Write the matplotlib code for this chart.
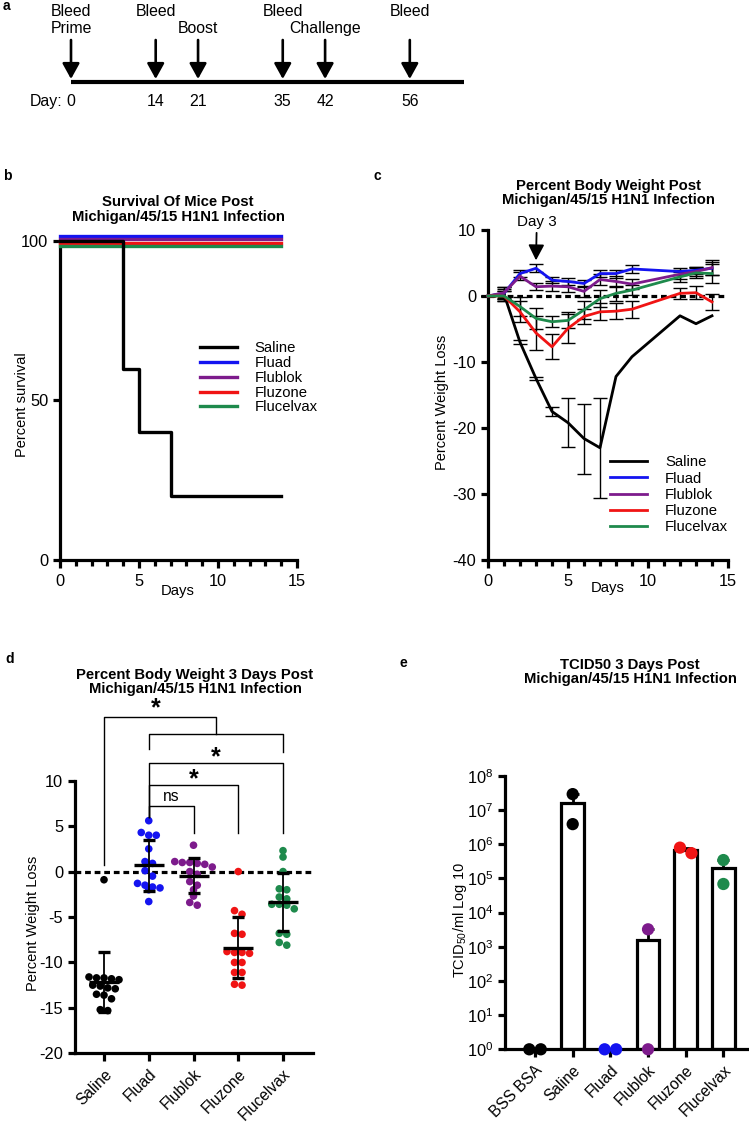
#!/usr/bin/env python3
"""Vaccine challenge figure: schedule (a), survival (b), weight curves (c),
day-3 weight loss scatter (d) and day-3 lung titres (e)."""
import numpy as np
import matplotlib
matplotlib.use("Agg")
import matplotlib.pyplot as plt
from matplotlib.ticker import MultipleLocator, FixedLocator, NullLocator
from matplotlib.transforms import ScaledTranslation

plt.rcParams["font.family"] = ["Liberation Sans", "DejaVu Sans"]
plt.rcParams["mathtext.fontset"] = "custom"
plt.rcParams["mathtext.rm"] = "Liberation Sans"
plt.rcParams["mathtext.it"] = "Liberation Sans:italic"
plt.rcParams["mathtext.bf"] = "Liberation Sans:bold"
plt.rcParams["mathtext.default"] = "regular"
plt.rcParams["axes.unicode_minus"] = False

W, H, DPI = 749, 1122, 100

GROUPS = ["Saline", "Fluad", "Flublok", "Fluzone", "Flucelvax"]
COLORS = ["#000000", "#1414f0", "#7d1b8c", "#f01414", "#1e8a4c"]

# --- a: schedule
EVENT_DAYS = [0, 14, 21, 35, 42, 56]
EVENT_TOP = ["Bleed", "Bleed", "", "Bleed", "", "Bleed"]
EVENT_BOTTOM = ["Prime", "", "Boost", "", "Challenge", ""]
TIMELINE_END = 65

# --- b: survival (Saline steps, vaccine groups stay at 100)
SURV_DAYS = [0, 4, 5, 7, 14]
SURV_SALINE = [100, 60, 40, 20, 20]
SURV_VACC_DAYS = [0, 14]
SURV_VACC = [100, 100]

# --- c: percent body weight, mean and SD per day
WT_DAYS = [0, 1, 2, 3, 4, 5, 6, 7, 8, 9, 12, 13, 14]
WT_MEAN = {
    "Saline":    [0, 0.3, -7.0, -12.5, -17.5, -19.2, -21.6, -23.0, -12.2, -9.2, -3.0, -4.2, -3.0],
    "Fluad":     [0, 0.4, 3.4, 4.2, 2.4, 2.2, 1.9, 3.4, 3.4, 4.1, 3.7, 3.9, 4.2],
    "Flublok":   [0, 0.5, 3.0, 1.4, 1.5, 1.4, 0.7, 2.5, 2.2, 1.8, 3.3, 3.7, 4.3],
    "Fluzone":   [0, 0.0, -2.4, -5.6, -7.7, -4.9, -3.1, -2.4, -2.3, -2.0, 0.4, 0.5, -0.9],
    "Flucelvax": [0, 0.0, -1.6, -3.4, -3.9, -3.7, -2.1, -0.4, 0.4, 0.9, 2.9, 3.5, 3.4],
}
WT_SD = {
    "Saline":    [0, 0.8, 0.3, 0.2, 0.7, 3.7, 5.3, 7.6, np.nan, np.nan, np.nan, np.nan, np.nan],
    "Fluad":     [0, 0.9, 0.5, 0.6, 0.5, 0.6, 0.5, 0.5, 0.6, 0.6, 0.5, 0.5, 1.0],
    "Flublok":   [0, 0.8, 0.6, 0.5, 0.7, 0.8, 0.8, 0.8, 0.9, 0.7, 0.7, 0.7, 1.1],
    "Fluzone":   [0, 0.7, 1.6, 2.6, 1.9, 2.2, 1.2, 1.3, 1.2, 1.3, 0.8, 1.0, 1.2],
    "Flucelvax": [0, 0.8, 1.5, 1.6, 0.8, 1.2, 1.4, 1.3, 1.1, 0.8, 0.8, 0.7, 1.4],
}

# --- d: individual mice, percent weight at day 3
D3_WEIGHT = {
    "Saline":    [-0.9, -11.6, -11.7, -11.7, -11.8, -11.9, -12.5, -12.6, -12.8, -12.9,
                  -13.5, -13.6, -14.0, -15.2, -15.3],
    "Fluad":     [5.6, 4.3, 4.0, 4.0, 2.5, 1.1, 0.9, 0.1, -0.5, -1.3, -1.5, -1.7, -1.8, -2.0, -3.3],
    "Flublok":   [2.9, 1.1, 1.0, 1.0, 0.9, 0.8, 0.5, 0.0, -0.3, -1.1, -1.5, -2.0, -2.7, -3.4, -3.7],
    "Fluzone":   [0.0, -4.3, -4.7, -6.8, -6.9, -8.8, -8.9, -8.9, -9.0, -10.0, -10.0,
                  -11.1, -11.1, -12.4, -12.5],
    "Flucelvax": [2.3, 1.6, 0.0, -1.9, -2.0, -2.8, -3.0, -3.6, -3.6, -3.7, -4.1, -6.8, -6.9, -7.8, -8.1],
}
# (left group, right group, label, height in % weight)
D3_BRACKETS = [
    ("Fluad", "Flublok", "ns", 7.2),
    ("Fluad", "Fluzone", "*", 9.5),
    ("Fluad", "Flucelvax", "*", 12.0),
]
D3_TOP_SPAN = ("Fluad", "Flucelvax", 15.15)
D3_TOP_BRACKET = ("Saline", "*", 17.0)

# --- e: TCID50 per mouse at day 3
TC_GROUPS = ["BSS BSA", "Saline", "Fluad", "Flublok", "Fluzone", "Flucelvax"]
TC_COLORS = ["#000000", "#000000", "#1414f0", "#7d1b8c", "#f01414", "#1e8a4c"]
TC_VALUES = [[1, 1], [2.95e7, 3.9e6], [1, 1], [3.25e3, 1], [5.5e5, 8.0e5], [3.46e5, 6.9e4]]

TICK_FS = 11.8


def px_axes(fig, left, top, right, bottom):
    return fig.add_axes([left / W, 1 - bottom / H, (right - left) / W, (bottom - top) / H])


def ftext(fig, x, y, s, **kw):
    return fig.text(x / W, 1 - y / H, s, **kw)


def prism_axes(ax, tick_len=5.4, minor_len=4.0):
    for s in ("top", "right"):
        ax.spines[s].set_visible(False)
    for s in ("left", "bottom"):
        ax.spines[s].set_linewidth(2.3)
    ax.tick_params(which="major", length=tick_len, width=2.3, labelsize=TICK_FS, pad=3)
    ax.tick_params(which="minor", length=minor_len, width=2.3)


def swarm_x(ax, center, values, diam_px):
    # spread points sharing a row sideways, like a scatter dot plot
    tr = ax.transData
    ys = np.array([tr.transform((center, v))[1] for v in values])
    unit = tr.transform((1, 0))[0] - tr.transform((0, 0))[0]
    order = np.argsort(-ys)
    xs = np.full(len(values), float(center))
    rows, cur, start = [], [], None
    for i in order:
        if start is None or start - ys[i] < 0.8 * diam_px:
            if start is None:
                start = ys[i]
            cur.append(i)
        else:
            rows.append(cur)
            cur, start = [i], ys[i]
    rows.append(cur)
    for row in rows:
        n = len(row)
        for j, i in enumerate(row):
            xs[i] = center + (j - (n - 1) / 2) * diam_px / unit
    return xs


def panel_a(fig):
    ax = fig.add_axes([0, 1 - 125 / H, 1, 125 / H])
    ax.set_xlim(-71 / 6.05, (W - 71) / 6.05)
    ax.set_ylim(125, 0)
    ax.axis("off")
    ax.plot([0, TIMELINE_END], [82, 82], color="black", lw=3, solid_capstyle="butt")
    for d, top, bot in zip(EVENT_DAYS, EVENT_TOP, EVENT_BOTTOM):
        ax.annotate("", xy=(d, 79), xytext=(d, 40),
                    arrowprops=dict(arrowstyle="-|>,head_length=0.47,head_width=0.26",
                                    mutation_scale=20, lw=1.9, color="black",
                                    shrinkA=0, shrinkB=0))
        if top:
            ax.text(d, 16.5, top, ha="center", va="baseline", fontsize=11.4)
        if bot:
            ax.text(d, 33, bot, ha="center", va="baseline", fontsize=11.4)
        ax.text(d, 106, str(d), ha="center", va="baseline", fontsize=11.4)
    ax.annotate("Day:", xy=(0, 106), xytext=(-6.5, 0), textcoords="offset points",
                ha="right", va="baseline", fontsize=11.4)


def panel_b(fig):
    ax = px_axes(fig, 60, 241, 297, 560)
    prism_axes(ax)
    ax.set_xlim(0, 15)
    ax.set_ylim(0, 100)
    ax.xaxis.set_major_locator(MultipleLocator(5))
    ax.xaxis.set_minor_locator(MultipleLocator(1))
    ax.set_yticks([0, 50, 100])
    ax.tick_params(axis="x", pad=5)
    # vaccine groups all at 100 %, nudged apart so each colour shows
    shifts = {"Fluad": 3.6, "Flublok": 1.2, "Fluzone": -1.2, "Flucelvax": -3.6}
    handles = []
    h, = ax.plot(SURV_DAYS, SURV_SALINE, drawstyle="steps-post", color=COLORS[0], lw=2.4,
                 clip_on=False, zorder=4, label="Saline")
    handles.append(h)
    for g, c in zip(GROUPS[1:], COLORS[1:]):
        off = ScaledTranslation(0, shifts[g] / 72, fig.dpi_scale_trans)
        h, = ax.plot(SURV_VACC_DAYS, SURV_VACC, color=c, lw=2.4, clip_on=False, zorder=3,
                     transform=ax.transData + off, label=g)
        handles.append(h)
    ax.legend(handles=handles, loc="upper left", bbox_to_anchor=(0.59, 0.685), frameon=False,
              fontsize=10.7, handlelength=2.5, handletextpad=1.2, labelspacing=0.05,
              borderpad=0, borderaxespad=0)
    ftext(fig, 22, 405, "Percent survival", rotation=90, ha="center", va="center", fontsize=10.5)
    ftext(fig, 178, 591, "Days", ha="center", va="center", fontsize=10.7)
    ftext(fig, 178, 209.5, "Survival Of Mice Post\nMichigan/45/15 H1N1 Infection",
          ha="center", va="center", fontsize=10.7, fontweight="bold", linespacing=1.0)


def panel_c(fig):
    ax = px_axes(fig, 488, 230, 728, 560)
    prism_axes(ax)
    ax.set_xlim(0, 15)
    ax.set_ylim(-40, 10)
    ax.xaxis.set_major_locator(MultipleLocator(5))
    ax.xaxis.set_minor_locator(MultipleLocator(1))
    ax.yaxis.set_major_locator(MultipleLocator(10))
    ax.tick_params(axis="x", pad=5)
    ax.axhline(0, color="black", lw=2.3, ls=(0, (1.8, 1.2)), zorder=2)
    days = np.array(WT_DAYS, dtype=float)
    handles = []
    for g, c in zip(GROUPS, COLORS):
        m = np.array(WT_MEAN[g], dtype=float)
        sd = np.array(WT_SD[g], dtype=float)
        ok = ~np.isnan(sd)
        ax.errorbar(days[ok], m[ok], yerr=sd[ok], fmt="none", ecolor="black", elinewidth=1.0,
                    capsize=5, capthick=1.0, zorder=3, clip_on=False)
        h, = ax.plot(days, m, color=c, lw=2.0, zorder=4, label=g, clip_on=False)
        handles.append(h)
    ax.legend(handles=handles, loc="upper left", bbox_to_anchor=(0.508, 0.317), frameon=False,
              fontsize=10.7, handlelength=2.5, handletextpad=1.2, labelspacing=0.15,
              borderpad=0, borderaxespad=0)
    ax.annotate("Day 3", xy=(3, 5.4), xytext=(3.05, 10.2), ha="center", va="bottom",
                fontsize=10.9, annotation_clip=False,
                arrowprops=dict(arrowstyle="-|>,head_length=0.47,head_width=0.24",
                                mutation_scale=20, lw=1.3, color="black", shrinkA=1, shrinkB=0))
    ftext(fig, 442, 402, "Percent Weight Loss", rotation=90, ha="center", va="center", fontsize=10.5)
    ftext(fig, 608, 588, "Days", ha="center", va="center", fontsize=10.7)
    ftext(fig, 608, 193, "Percent Body Weight Post\nMichigan/45/15 H1N1 Infection",
          ha="center", va="center", fontsize=10.7, fontweight="bold", linespacing=1.0)


def panel_d(fig):
    ax = px_axes(fig, 75, 780.7, 313, 1053.3)
    prism_axes(ax)
    ax.set_xlim(0.352, 5.67)
    ax.set_ylim(-20, 10)
    ax.yaxis.set_major_locator(MultipleLocator(5))
    pos = {g: i + 1 for i, g in enumerate(GROUPS)}
    ax.set_xticks(list(pos.values()))
    ax.set_xticklabels(GROUPS, rotation=45, ha="right", rotation_mode="anchor", fontsize=11.2)
    ax.tick_params(axis="x", pad=4)
    ax.axhline(0, color="black", lw=2.3, ls=(0, (1.8, 1.2)), zorder=2)
    for g, c in zip(GROUPS, COLORS):
        vals = np.array(D3_WEIGHT[g])
        xs = swarm_x(ax, pos[g], vals, 7.5)
        ax.scatter(xs, vals, s=30, color=c, edgecolors="none", zorder=3, clip_on=False)
        ax.errorbar(pos[g], vals.mean(), yerr=vals.std(ddof=1), fmt="_", color="black", ms=22,
                    mew=2.4, ecolor="black", elinewidth=1.3, capsize=4.3, capthick=1.3, zorder=4)

    def line(xs, ys):
        ax.plot(xs, ys, color="black", lw=1.0, clip_on=False, zorder=5)

    leg_left, leg_right = 6.0, 4.2
    for a, b, lab, y in D3_BRACKETS:
        line([pos[a], pos[a], pos[b], pos[b]], [leg_left, y, y, leg_right])
        mid = (pos[a] + pos[b]) / 2
        if lab == "*":
            ax.annotate(lab, xy=(mid, y), xytext=(0, -1), textcoords="offset points", ha="center",
                        va="baseline", fontsize=18, fontweight="bold", annotation_clip=False)
        else:
            ax.annotate(lab, xy=(mid, y), xytext=(0, 4), textcoords="offset points", ha="center",
                        va="baseline", fontsize=11.2, annotation_clip=False)
    a, b, y2 = D3_TOP_SPAN
    line([pos[a], pos[a], pos[b], pos[b]], [y2 - 1.7, y2, y2, y2 - 2.0])
    g, lab, y1 = D3_TOP_BRACKET
    span_mid = (pos[a] + pos[b]) / 2
    line([pos[g], pos[g], span_mid, span_mid], [0.7, y1, y1, y2])
    ax.annotate(lab, xy=((pos[g] + span_mid) / 2, y1), xytext=(-3, 1), textcoords="offset points",
                ha="center", va="baseline", fontsize=18, fontweight="bold", annotation_clip=False)
    ftext(fig, 33, 923, "Percent Weight Loss", rotation=90, ha="center", va="center", fontsize=10.5)
    ftext(fig, 195, 681.5, "Percent Body Weight 3 Days Post\nMichigan/45/15 H1N1 Infection",
          ha="center", va="center", fontsize=10.7, fontweight="bold", linespacing=1.0)


def panel_e(fig):
    ax = px_axes(fig, 505, 776, 749, 1049.3)
    prism_axes(ax, tick_len=5.4)
    ax.set_yscale("log")
    ax.set_ylim(1, 1e8)
    ax.set_xlim(-0.797, 5.68)
    ax.yaxis.set_major_locator(FixedLocator([10.0 ** k for k in range(9)]))
    ax.yaxis.set_minor_locator(NullLocator())
    ax.set_yticklabels(["10$^{%d}$" % k for k in range(9)])
    ax.set_xticks(range(len(TC_GROUPS)))
    ax.set_xticklabels(TC_GROUPS, rotation=45, ha="right", rotation_mode="anchor", fontsize=11.2)
    ax.tick_params(axis="x", pad=4)
    for i, (vals, c) in enumerate(zip(TC_VALUES, TC_COLORS)):
        vals = np.array(vals, dtype=float)
        mean = vals.mean()
        sem = vals.std(ddof=1) / np.sqrt(len(vals))
        ax.bar(i, mean - 1, bottom=1, width=0.6, facecolor="white", edgecolor="black",
               lw=2.3, zorder=2)
        if sem > 0:
            ax.errorbar(i, mean, yerr=[[0], [sem]], fmt="none", ecolor="black", elinewidth=2.0,
                        capsize=4, capthick=2.0, zorder=3)
        xs = swarm_x(ax, i, vals, 11.5)
        ax.scatter(xs, vals, s=78, color=c, edgecolors="none", zorder=4, clip_on=False)
    ftext(fig, 460, 920, "TCID$_{50}$/ml Log 10", rotation=90, ha="center", va="center",
          fontsize=10.5)
    ftext(fig, 630, 672, "TCID50 3 Days Post\nMichigan/45/15 H1N1 Infection",
          ha="center", va="center", fontsize=10.7, fontweight="bold", linespacing=1.0)


def main():
    fig = plt.figure(figsize=(W / DPI, H / DPI), dpi=DPI)
    panel_a(fig)
    panel_b(fig)
    panel_c(fig)
    panel_d(fig)
    panel_e(fig)
    for lab, x, y in (("a", 6, 6), ("b", 7, 176), ("c", 377, 176), ("d", 10, 659), ("e", 403, 663)):
        ftext(fig, x, y, lab, ha="center", va="center", fontsize=10, fontweight="bold")
    fig.savefig("out.png", dpi=DPI)
    print("wrote out.png")


if __name__ == "__main__":
    main()
